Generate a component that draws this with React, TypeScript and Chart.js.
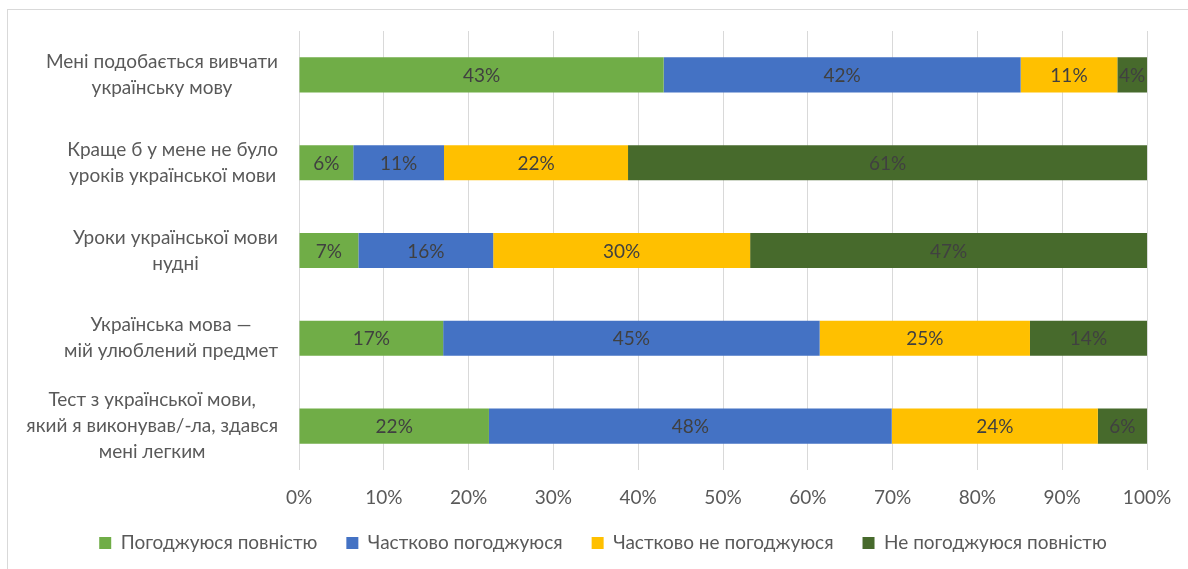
import React, { useEffect, useRef } from "react";
import { Chart, registerables } from "chart.js";

Chart.register(...registerables);

const categories: string[][] = [
  ["Мені подобається вивчати", "українську мову"],
  ["Краще б у мене не було", "уроків української мови"],
  ["Уроки української мови", "нудні"],
  ["Українська мова —", "мій улюблений предмет"],
  ["Тест з української мови,", "який я виконував/-ла, здався", "мені легким"],
];

const seriesNames = [
  "Погоджуюся повністю",
  "Частково погоджуюся",
  "Частково не погоджуюся",
  "Не погоджуюся повністю",
];

const fullyAgree = [43.0, 6.4, 7.0, 17.0, 22.4];
const partlyAgree = [42.1, 10.7, 15.9, 44.4, 47.5];
const partlyDisagree = [11.4, 21.7, 30.3, 24.8, 24.3];
const fullyDisagree = [3.5, 61.2, 46.8, 13.8, 5.8];

const fullyAgreeLabels = ["43%", "6%", "7%", "17%", "22%"];
const partlyAgreeLabels = ["42%", "11%", "16%", "45%", "48%"];
const partlyDisagreeLabels = ["11%", "22%", "30%", "25%", "24%"];
const fullyDisagreeLabels = ["4%", "61%", "47%", "14%", "6%"];

const xTicks = [0, 10, 20, 30, 40, 50, 60, 70, 80, 90, 100];

const colors = ["#70AD47", "#4472C4", "#FFC000", "#476A2C"];
const FONT = "Lato";
const TEXT = "#595959";

const labelPlugin = {
  id: "customLabels",
  afterLayout(chart: any) {
    const lg = chart.legend;
    if (lg) {
      lg.top -= 6.5;
      lg.bottom -= 6.5;
    }
  },
  afterDatasetsDraw(chart: any) {
    const ctx = chart.ctx;
    ctx.save();
    // data labels
    ctx.font = `19px ${FONT}`;
    ctx.fillStyle = "#404040";
    ctx.textAlign = "center";
    ctx.textBaseline = "middle";
    chart.data.datasets.forEach((ds: any, di: number) => {
      const meta = chart.getDatasetMeta(di);
      meta.data.forEach((el: any, i: number) => {
        const x = (el.x + el.base) / 2;
        ctx.fillText(ds.valueLabels[i], x, el.y + 1);
      });
    });
    // category labels
    const yScale = chart.scales.y;
    const right = chart.chartArea.left - 21;
    const lh = 26;
    ctx.fillStyle = TEXT;
    categories.forEach((lines, i) => {
      const yc = yScale.getPixelForValue(i);
      const w = Math.max(...lines.map((l) => ctx.measureText(l).width));
      const cx = right - w / 2;
      const y0 = yc - ((lines.length - 1) * lh) / 2;
      lines.forEach((l, k) => ctx.fillText(l, cx, y0 + k * lh));
    });
    ctx.restore();
  },
};

export default function App() {
  const ref = useRef<HTMLCanvasElement>(null);
  useEffect(() => {
    document.body.style.margin = "0";
    document.body.style.overflow = "hidden";
    const chart = new Chart(ref.current!, {
      type: "bar",
      data: {
        labels: categories.map((c) => c.join(" ")),
        datasets: [
          { label: seriesNames[0], data: fullyAgree, backgroundColor: colors[0], valueLabels: fullyAgreeLabels } as any,
          { label: seriesNames[1], data: partlyAgree, backgroundColor: colors[1], valueLabels: partlyAgreeLabels } as any,
          { label: seriesNames[2], data: partlyDisagree, backgroundColor: colors[2], valueLabels: partlyDisagreeLabels } as any,
          { label: seriesNames[3], data: fullyDisagree, backgroundColor: colors[3], valueLabels: fullyDisagreeLabels } as any,
        ],
      },
      options: {
        responsive: false,
        animation: false,
        indexAxis: "y",
        datasets: { bar: { categoryPercentage: 0.8, barPercentage: 0.5 } },
        layout: { padding: { left: 59, right: 41, top: 31, bottom: 0 } },
        scales: {
          x: {
            stacked: true,
            min: 0,
            max: 100,
            afterBuildTicks: (scale: any) => {
              scale.ticks = xTicks.map((v) => ({ value: v }));
            },
            afterFit: (scale: any) => {
              scale.height = 41;
            },
            ticks: {
              callback: (v: any) => v + "%",
              color: TEXT,
              font: { family: FONT, size: 19 },
              padding: 16,
              maxRotation: 0,
            },
            grid: { color: "#D9D9D9", drawTicks: false, lineWidth: 1 },
            border: { display: false },
          },
          y: {
            stacked: true,
            ticks: { display: false },
            grid: { display: false },
            border: { display: false },
            afterFit: (scale: any) => {
              scale.width = 240;
            },
          },
        },
        plugins: {
          legend: {
            position: "bottom",
            labels: {
              boxWidth: 12,
              boxHeight: 12,
              padding: 29,
              color: TEXT,
              font: { family: FONT, size: 19 },
            },
          },
          tooltip: { enabled: false },
        },
      } as any,
      plugins: [labelPlugin],
    });
    return () => chart.destroy();
  }, []);
  return (
    <div style={{ position: "relative", width: 1188, height: 569, overflow: "hidden", background: "#fff" }}>
      <div
        style={{
          position: "absolute",
          left: 7,
          top: 9,
          width: 1300,
          height: 700,
          border: "1px solid #D9D9D9",
        }}
      />
      <canvas ref={ref} width={1188} height={569} style={{ position: "absolute", left: 0, top: 0 }} />
    </div>
  );
}
